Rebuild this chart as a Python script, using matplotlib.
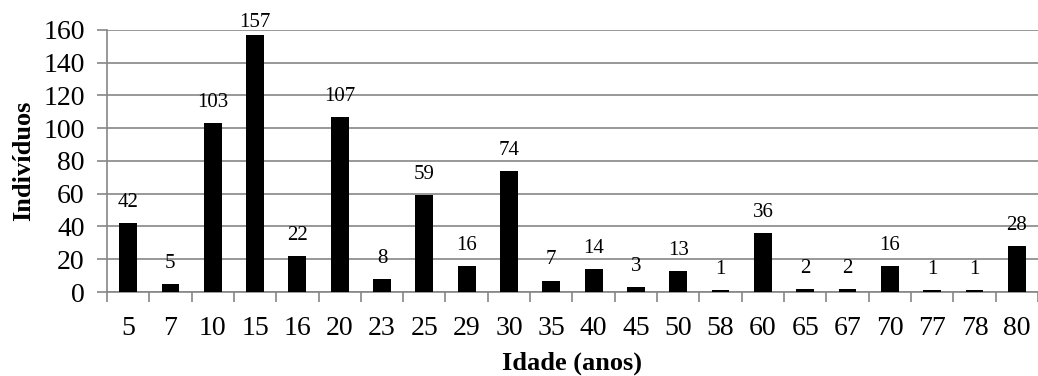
import matplotlib
matplotlib.use("Agg")
import matplotlib.pyplot as plt
import numpy as np

ages = ["5", "7", "10", "15", "16", "20", "23", "25", "29", "30", "35",
        "40", "45", "50", "58", "60", "65", "67", "70", "77", "78", "80"]
counts = [42, 5, 103, 157, 22, 107, 8, 59, 16, 74, 7,
          14, 3, 13, 1, 36, 2, 2, 16, 1, 1, 28]
yticks = [0, 20, 40, 60, 80, 100, 120, 140, 160]

plt.rcParams["font.family"] = ["Liberation Serif", "DejaVu Serif"]
grid_color = "#868686"

fig = plt.figure(figsize=(10.38, 3.76), dpi=100)
ax = fig.add_axes([0.103, 0.2234, 0.897, 0.697])

x = np.arange(len(ages))
ax.bar(x, counts, width=0.42, color="black", zorder=3)

ax.set_xlim(-0.5, len(ages) - 0.5)
ax.set_ylim(0, 160)

# value labels sit a fixed distance above each bar, kept inside the figure
label_gap = 9.8      # in data units (~16 px)
label_ceiling = 161.8
for xi, v in zip(x, counts):
    ax.text(xi, min(v + label_gap, label_ceiling), str(v), ha="center",
            va="baseline", fontsize=15, clip_on=False)

ax.set_yticks(yticks)
ax.yaxis.grid(True, color=grid_color, linewidth=1.2, zorder=0)
ax.tick_params(axis="y", labelsize=20, length=7, color=grid_color, width=1.2, pad=9)

ax.set_xticks(x)
ax.set_xticklabels(ages)
ax.set_xticks(np.arange(-0.5, len(ages)), minor=True)
ax.tick_params(axis="x", which="major", length=0, labelsize=20, pad=17)
ax.tick_params(axis="x", which="minor", length=7, color=grid_color, width=1.2)

for side in ("top", "right"):
    ax.spines[side].set_visible(False)
for side in ("left", "bottom"):
    ax.spines[side].set_color(grid_color)
    ax.spines[side].set_linewidth(1.2)

ax.set_ylabel("Indivíduos", fontsize=19, fontweight="bold", labelpad=6)
ax.set_xlabel("Idade (anos)", fontsize=19, fontweight="bold", labelpad=8)

fig.savefig("out.png", dpi=100)
